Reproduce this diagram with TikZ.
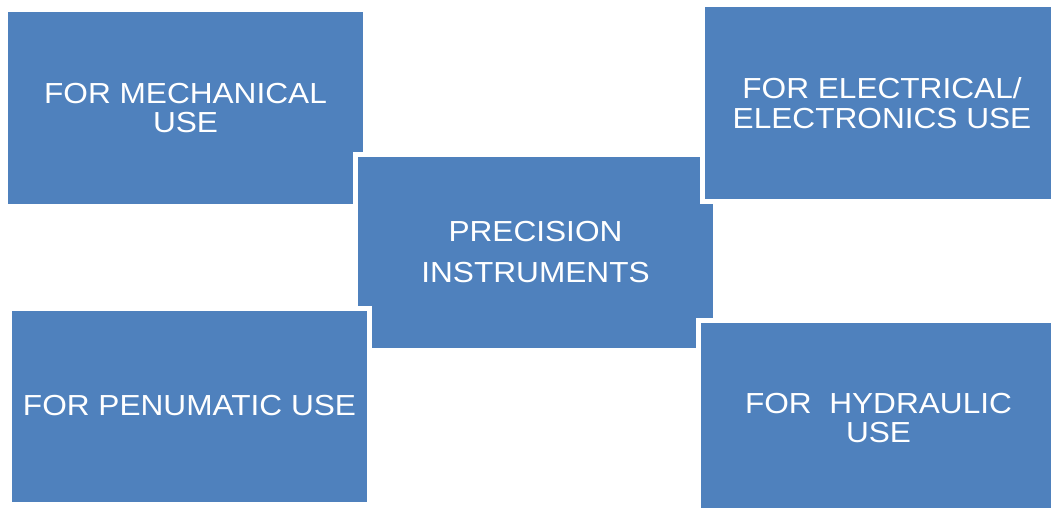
\documentclass[tikz,border=0pt]{standalone}
\usepackage{fontspec}
\newfontfamily\boxfont[FakeStretch=1.09]{Liberation Sans}
\definecolor{boxblue}{HTML}{4F81BD}
\tikzset{
  blk/.style={fill=boxblue, draw=white, line width=5pt, inner sep=0pt,
    text=white, align=center, minimum width=360pt, minimum height=196pt,
    font=\boxfont\fontsize{29}{29.5}\selectfont},
}
\begin{document}
\begin{tikzpicture}[x=1pt,y=-1pt]
\useasboundingbox (0,0) rectangle (1051,508);
\clip (0,0) rectangle (1051,508);
\node[blk] (mech) at (185.5,108) {FOR MECHANICAL\\USE};
\node[blk, font=\boxfont\fontsize{29}{41}\selectfont] (prec) at (535.5,252.5) {PRECISION\\INSTRUMENTS};
\node[blk] (elec) at (882,103) {FOR ELECTRICAL/\\ELECTRONICS USE};
\node[blk] (pneu) at (189.5,406) {FOR PENUMATIC USE};
\node[blk] (hyd) at (878.5,418) {FOR\ \ HYDRAULIC\\USE};
\end{tikzpicture}
\end{document}
